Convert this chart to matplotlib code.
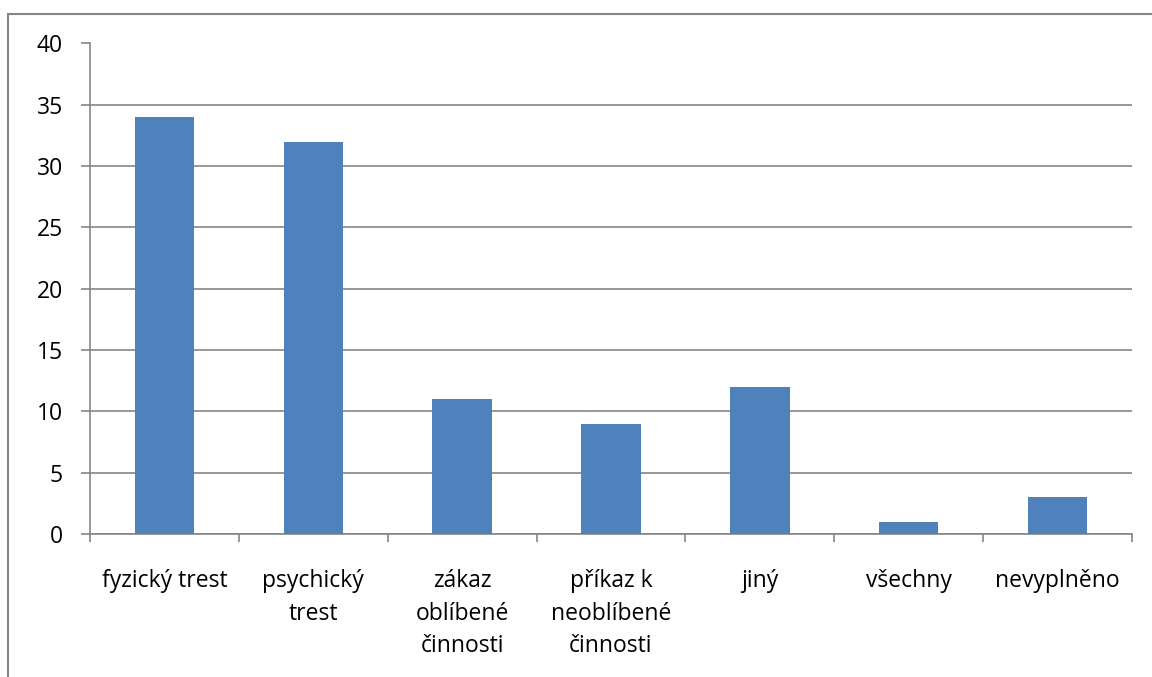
import matplotlib.pyplot as plt
from matplotlib.patches import Rectangle
import numpy as np

# Kategorie a počty odpovědí
categories = ["fyzický trest", "psychický\ntrest", "zákaz\noblíbené\nčinnosti",
              "příkaz k\nneoblíbené\nčinnosti", "jiný", "všechny", "nevyplněno"]
counts = [34, 32, 11, 9, 12, 1, 3]
yticks = [0, 5, 10, 15, 20, 25, 30, 35, 40]

plt.rcParams['font.family'] = ['Open Sans', 'DejaVu Sans']
grid_color = "#868686"
bar_color = "#4F81BD"

fig = plt.figure(figsize=(11.52, 6.77), dpi=100)
ax = fig.add_axes([90 / 1152, 143 / 677, 1042 / 1152, 490.5 / 677])

x = np.arange(len(categories))
ax.bar(x, counts, width=0.4, color=bar_color, zorder=3)

ax.set_xlim(-0.5, len(categories) - 0.5)
ax.set_ylim(0, 40)
ax.set_yticks(yticks)
ax.set_yticklabels([str(v) for v in yticks], fontsize=16.5)
ax.yaxis.grid(True, color=grid_color, linewidth=1.2, zorder=0)

# popisky uprostřed kategorií, značky na hranicích
ax.set_xticks(x)
ax.set_xticklabels(categories, fontsize=16.5, linespacing=1.45, va="top")
ax.set_xticks(np.arange(-0.5, len(categories)), minor=True)
ax.tick_params(axis="x", which="major", length=0, pad=25.5)
ax.tick_params(axis="x", which="minor", length=5.8, width=1.2, color=grid_color, direction="out")
ax.tick_params(axis="y", length=6.5, width=1.2, color=grid_color, pad=13)

for side in ("top", "right"):
    ax.spines[side].set_visible(False)
for side in ("left", "bottom"):
    ax.spines[side].set_color(grid_color)
    ax.spines[side].set_linewidth(1.2)

# rámeček grafu
fig.patches.append(Rectangle((8 / 1152, -0.05), 1.1, (677 - 14) / 677 + 0.05,
                             transform=fig.transFigure, fill=False,
                             edgecolor=grid_color, linewidth=1.5))

fig.savefig("out.png", dpi=100)
